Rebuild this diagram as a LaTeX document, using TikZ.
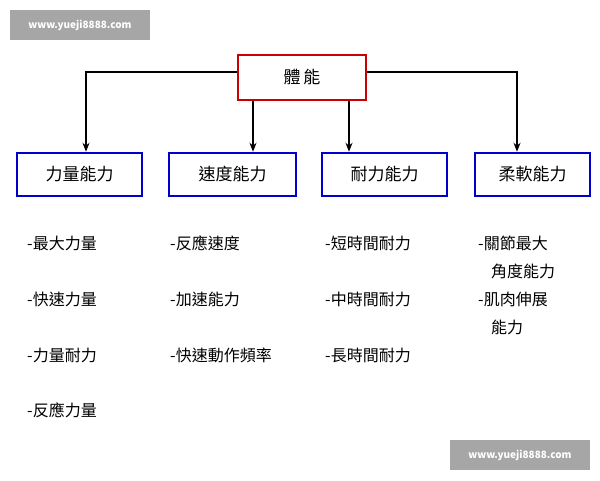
\documentclass[tikz,border=0pt]{standalone}
\usepackage{fontspec}
\setmainfont{Noto Sans CJK TC}
\usetikzlibrary{arrows.meta}
\begin{document}
\begin{tikzpicture}[x=1pt,y=-1pt,
  wm/.style={fill=gray!70,text=white,font=\fontsize{10}{12}\selectfont\bfseries,minimum width=140pt,minimum height=30pt,inner sep=0pt},
  top/.style={draw=red!80!black,line width=2.5pt,minimum width=128pt,minimum height=45pt,font=\fontsize{17}{19}\selectfont},
  cat/.style={draw=blue!80!black,line width=2.5pt,minimum height=43pt,font=\fontsize{17}{19}\selectfont},
  item/.style={anchor=west,font=\fontsize{16}{18}\selectfont,inner sep=0pt},
  arr/.style={line width=2pt,-{Stealth[length=9pt,width=7pt]}}]
\useasboundingbox (0,0) rectangle (600,480);
\node[wm] (w1) at (80,25) {www.yueji8888.com};
\node[wm] (w2) at (520,455) {www.yueji8888.com};
\node[top] (t) at (302,77.5) {體\,能};
\node[cat,minimum width=125pt] (a) at (79.5,174.5) {力量能力};
\node[cat,minimum width=127pt] (b) at (232.5,174.5) {速度能力};
\node[cat,minimum width=125pt] (c) at (384.5,174.5) {耐力能力};
\node[cat,minimum width=115pt] (d) at (532.5,174.5) {柔軟能力};
\coordinate (tl) at ([yshift=6pt]t.west);
\coordinate (tr) at ([yshift=6pt]t.east);
\draw[arr] (tl) -| ([xshift=6.5pt]a.north);
\draw[arr] (tr) -| ([xshift=-15.5pt]d.north);
\draw[arr] ([xshift=-49pt]t.south) -- ([xshift=-49pt]t.south |- b.north);
\draw[arr] ([xshift=47pt]t.south) -- ([xshift=47pt]t.south |- c.north);
\node[item] (a1) at (27,243) {-最大力量};
\node[item] (a2) at (27,299) {-快速力量};
\node[item] (a3) at (27,355) {-力量耐力};
\node[item] (a4) at (27,410) {-反應力量};
\node[item] (b1) at (170,243) {-反應速度};
\node[item] (b2) at (170,299) {-加速能力};
\node[item] (b3) at (170,355) {-快速動作頻率};
\node[item] (c1) at (325,243) {-短時間耐力};
\node[item] (c2) at (325,299) {-中時間耐力};
\node[item] (c3) at (325,355) {-長時間耐力};
\node[item] (d1) at (478,243) {-關節最大};
\node[item] (d2) at (491,271) {角度能力};
\node[item] (d3) at (478,299) {-肌肉伸展};
\node[item] (d4) at (491,327) {能力};
\end{tikzpicture}
\end{document}
